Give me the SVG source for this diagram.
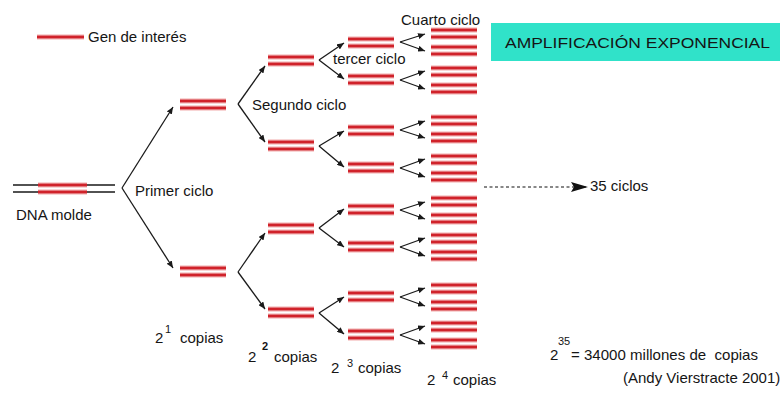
<svg xmlns="http://www.w3.org/2000/svg" xmlns:xlink="http://www.w3.org/1999/xlink" width="782" height="401" viewBox="0 0 782 401">
  <style>
    text { font-family: "Liberation Sans", Arial, sans-serif; font-size: 15px; fill: #151515; }
    .halo { stroke: #f3b3b3; stroke-width: 6; fill: none; opacity: 0.55; }
    .dna { stroke: #d0222a; stroke-width: 3; fill: none; }
    .strand { stroke: #1a1a1a; stroke-width: 1.3; fill: none; }
    .conn { stroke: #1a1a1a; stroke-width: 1.3; fill: none; marker-end: url(#tip); }
    .sup { font-size: 11px; }
  </style>
  <defs>
    <marker id="tip" markerUnits="userSpaceOnUse" markerWidth="8" markerHeight="6" refX="7" refY="3" orient="auto">
      <path d="M0,0 L7,3 L0,6 Z" fill="#1a1a1a"/>
    </marker>
    <marker id="bigtip" markerUnits="userSpaceOnUse" markerWidth="18" markerHeight="10" refX="17" refY="5" orient="auto">
      <path d="M0,0 L17,5 L0,10 L3,5 Z" fill="#111"/>
    </marker>
    <!-- one double-stranded copy of the gene -->
    <g id="pair">
      <path class="halo" d="M0 0H46M0 7H46"/>
      <path class="dna" d="M0 0H46M0 7H46"/>
    </g>
  </defs>

  <rect width="782" height="401" fill="#fff"/>

  <!-- legend -->
  <g id="legend">
    <path class="halo" d="M37 37H84"/>
    <path class="dna" d="M37 37H84"/>
    <text x="88" y="42">Gen de interés</text>
  </g>

  <!-- template DNA -->
  <g id="template">
    <path class="strand" d="M13 185H115M13 192H115"/>
    <path class="halo" d="M38 185H87M38 192H87"/>
    <path class="dna" d="M38 185H87M38 192H87" stroke-width="3.5"/>
    <text x="16" y="220">DNA molde</text>
  </g>

  <!-- cycle 1 products -->
  <g id="gen1-a"><use xlink:href="#pair" x="180" y="101"/></g>
  <g id="gen1-b"><use xlink:href="#pair" x="180" y="268"/></g>

  <!-- cycle 2 products -->
  <g id="gen2-a"><use xlink:href="#pair" x="268" y="57"/></g>
  <g id="gen2-b"><use xlink:href="#pair" x="268" y="142"/></g>
  <g id="gen2-c"><use xlink:href="#pair" x="268" y="225"/></g>
  <g id="gen2-d"><use xlink:href="#pair" x="268" y="309"/></g>

  <!-- cycle 3 products -->
  <g id="gen3-a"><use xlink:href="#pair" x="348" y="39"/></g>
  <g id="gen3-b"><use xlink:href="#pair" x="348" y="76"/></g>
  <g id="gen3-c"><use xlink:href="#pair" x="348" y="127"/></g>
  <g id="gen3-d"><use xlink:href="#pair" x="348" y="164"/></g>
  <g id="gen3-e"><use xlink:href="#pair" x="348" y="206"/></g>
  <g id="gen3-f"><use xlink:href="#pair" x="348" y="243"/></g>
  <g id="gen3-g"><use xlink:href="#pair" x="348" y="293"/></g>
  <g id="gen3-h"><use xlink:href="#pair" x="348" y="331"/></g>

  <!-- cycle 4 products -->
  <g id="gen4-a"><use xlink:href="#pair" x="431" y="30"/></g>
  <g id="gen4-b"><use xlink:href="#pair" x="431" y="47"/></g>
  <g id="gen4-c"><use xlink:href="#pair" x="431" y="68"/></g>
  <g id="gen4-d"><use xlink:href="#pair" x="431" y="85"/></g>
  <g id="gen4-e"><use xlink:href="#pair" x="431" y="117"/></g>
  <g id="gen4-f"><use xlink:href="#pair" x="431" y="134"/></g>
  <g id="gen4-g"><use xlink:href="#pair" x="431" y="156"/></g>
  <g id="gen4-h"><use xlink:href="#pair" x="431" y="173"/></g>
  <g id="gen4-i"><use xlink:href="#pair" x="431" y="198"/></g>
  <g id="gen4-j"><use xlink:href="#pair" x="431" y="215"/></g>
  <g id="gen4-k"><use xlink:href="#pair" x="431" y="235"/></g>
  <g id="gen4-l"><use xlink:href="#pair" x="431" y="252"/></g>
  <g id="gen4-m"><use xlink:href="#pair" x="431" y="285"/></g>
  <g id="gen4-n"><use xlink:href="#pair" x="431" y="302"/></g>
  <g id="gen4-o"><use xlink:href="#pair" x="431" y="323"/></g>
  <g id="gen4-p"><use xlink:href="#pair" x="431" y="340"/></g>

  <!-- branching arrows -->
  <g id="connectors">
    <path class="conn" d="M122 188L173 107"/>
    <path class="conn" d="M122 188L173 268"/>

    <path class="conn" d="M238 104L265 66"/>
    <path class="conn" d="M238 104L265 142"/>
    <path class="conn" d="M238 272L265 233"/>
    <path class="conn" d="M238 272L265 309"/>

    <path class="conn" d="M319 60L344 43"/>
    <path class="conn" d="M319 60L344 79"/>
    <path class="conn" d="M319 146L344 131"/>
    <path class="conn" d="M319 146L344 167"/>
    <path class="conn" d="M319 228L344 209"/>
    <path class="conn" d="M319 228L344 247"/>
    <path class="conn" d="M319 313L344 297"/>
    <path class="conn" d="M319 313L344 334"/>

    <path class="conn" d="M400 42L425 34"/>
    <path class="conn" d="M400 42L425 51"/>
    <path class="conn" d="M400 80L425 71"/>
    <path class="conn" d="M400 80L425 89"/>
    <path class="conn" d="M400 130L425 121"/>
    <path class="conn" d="M400 130L425 138"/>
    <path class="conn" d="M400 168L425 159"/>
    <path class="conn" d="M400 168L425 177"/>
    <path class="conn" d="M400 210L425 202"/>
    <path class="conn" d="M400 210L425 219"/>
    <path class="conn" d="M400 247L425 238"/>
    <path class="conn" d="M400 247L425 256"/>
    <path class="conn" d="M400 297L425 288"/>
    <path class="conn" d="M400 297L425 306"/>
    <path class="conn" d="M400 335L425 326"/>
    <path class="conn" d="M400 335L425 344"/>

    <path d="M484 187H588" stroke="#111" stroke-width="1.2" stroke-dasharray="3 2.5" fill="none" marker-end="url(#bigtip)"/>
  </g>

  <!-- cycle labels -->
  <g id="labels">
    <text x="135" y="196">Primer ciclo</text>
    <text x="252" y="110">Segundo ciclo</text>
    <text x="333" y="64">tercer ciclo</text>
    <text x="401" y="25">Cuarto ciclo</text>
    <text x="590" y="191">35 ciclos</text>
  </g>

  <!-- copy counts -->
  <g id="counts">
    <text x="155" y="343">2</text><text class="sup" x="165" y="333">1</text><text x="180" y="343">copias</text>
    <text x="248" y="362">2</text><text class="sup" x="262" y="350" font-weight="bold">2</text><text x="274" y="362">copias</text>
    <text x="331" y="373">2</text><text class="sup" x="347" y="367">3</text><text x="358" y="373">copias</text>
    <text x="427" y="385">2</text><text class="sup" x="442" y="379">4</text><text x="453" y="385">copias</text>
    <text x="550" y="360">2</text><text class="sup" x="558" y="345">35</text><text x="571" y="360" textLength="187" lengthAdjust="spacingAndGlyphs" xml:space="preserve">= 34000 millones de  copias</text>
    <text x="623" y="383">(Andy Vierstracte 2001)</text>
  </g>

  <!-- title banner -->
  <g id="title">
    <rect x="491" y="23" width="289" height="38" fill="#30e2c9"/>
    <text x="505" y="48" font-size="18" fill="#1c2b2b" textLength="265" lengthAdjust="spacingAndGlyphs">AMPLIFICACIÓN EXPONENCIAL</text>
  </g>
</svg>
